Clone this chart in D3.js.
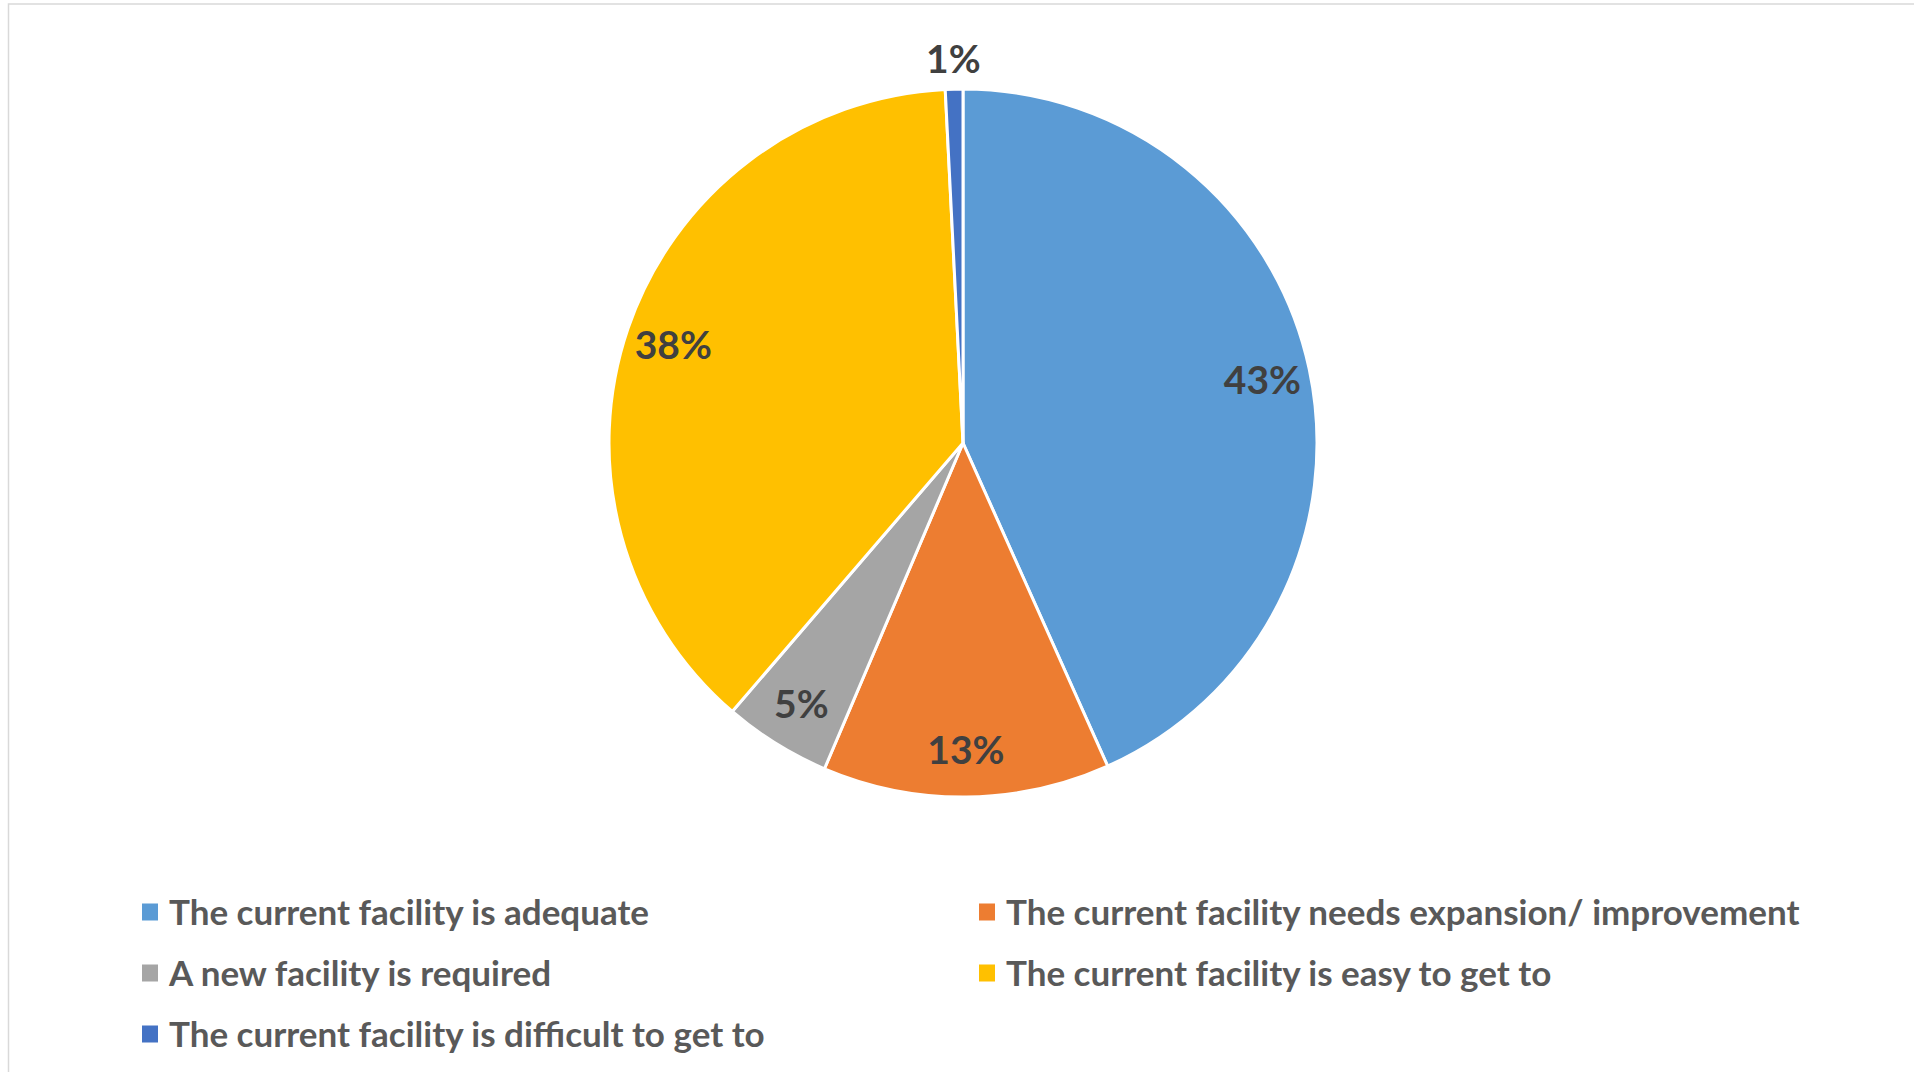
<!DOCTYPE html>
<html>
<head>
<meta charset="utf-8">
<script src="https://cdn.jsdelivr.net/npm/d3@7"></script>
<style>
  html, body { margin: 0; padding: 0; background: #fff; }
  svg { display: block; }
</style>
</head>
<body>
<svg id="chart" width="1914" height="1072"></svg>
<script>
const categories = [
  "The current facility is adequate",
  "The current facility needs expansion/ improvement",
  "A new facility is required",
  "The current facility is easy to get to",
  "The current facility is difficult to get to"
];
const values = [43.3, 13.1, 4.9, 37.9, 0.8];
const colors = ["#5B9BD5", "#ED7D31", "#A5A5A5", "#FFC000", "#4472C4"];
const legendOrder = [0, 1, 2, 3, 4];

const W = 1914, H = 1072;
const svg = d3.select("#chart");

// outer chart border
svg.append("rect")
  .attr("x", 8.5).attr("y", 4)
  .attr("width", W).attr("height", H)
  .attr("fill", "#fff")
  .attr("stroke", "#d9d9d9").attr("stroke-width", 1.5);

const cx = 963, cy = 443, R = 354;
const g = svg.append("g").attr("transform", `translate(${cx},${cy})`);

const data = categories.map((c, i) => ({ name: c, value: values[i], color: colors[i] }));
const pie = d3.pie().value(d => d.value).sort(null);
const arcs = pie(data);
const arc = d3.arc().innerRadius(0).outerRadius(R);

g.selectAll("path.slice").data(arcs).enter().append("path")
  .attr("class", "slice")
  .attr("d", arc)
  .attr("fill", d => d.data.color)
  .attr("stroke", "#fff")
  .attr("stroke-width", 3)
  .attr("stroke-linejoin", "round");

const inArc = d3.arc().innerRadius(R * 0.865).outerRadius(R * 0.865);
const outArc = d3.arc().innerRadius(R + 31).outerRadius(R + 31);

g.selectAll("text.lbl").data(arcs).enter().append("text")
  .attr("class", "lbl")
  .attr("transform", d => {
    const p = (d.data.value < 2 ? outArc : inArc).centroid(d);
    return `translate(${p[0]},${p[1]})`;
  })
  .attr("text-anchor", "middle")
  .attr("dominant-baseline", "central")
  .attr("font-family", "Lato, 'Open Sans', sans-serif")
  .attr("font-weight", "bold")
  .attr("font-size", 39)
  .attr("fill", "#404040")
  .text(d => Math.round(d.data.value) + "%");

// legend
const colX = [142, 979];
const rowY = [912, 973, 1034];
const lg = svg.append("g");
legendOrder.forEach((idx, k) => {
  const col = k % 2, row = Math.floor(k / 2);
  const x = colX[col], y = rowY[row];
  lg.append("rect")
    .attr("x", x).attr("y", y - 8.5)
    .attr("width", 16).attr("height", 17)
    .attr("fill", colors[idx]);
  lg.append("text")
    .attr("x", x + 27).attr("y", y - 1)
    .attr("dominant-baseline", "central")
    .attr("font-family", "Lato, 'Open Sans', sans-serif")
    .attr("font-weight", "bold")
    .attr("font-size", 35)
    .attr("fill", "#595959")
    .text(categories[idx]);
});
</script>
</body>
</html>
